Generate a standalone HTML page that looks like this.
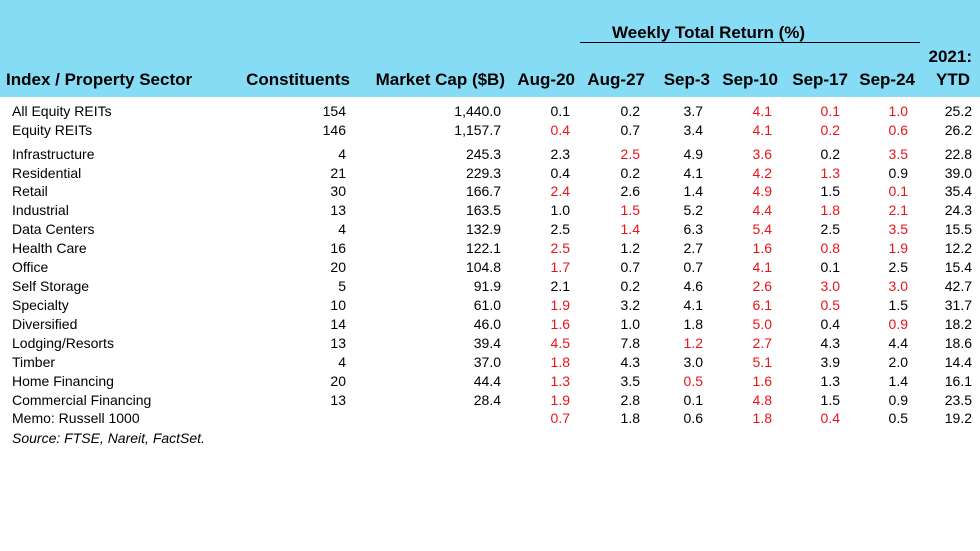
<!DOCTYPE html>
<html><head><meta charset="utf-8"><style>
body{margin:0;width:980px;height:551px;background:#fff;font-family:"Liberation Sans",Arial,sans-serif;position:relative;overflow:hidden}
.band{position:absolute;left:0;top:0;width:980px;height:97px;background:#87dcf5}
.h{position:absolute;font-weight:bold;font-size:17px;color:#000;white-space:nowrap}
.c{position:absolute;font-size:14px;color:#000;white-space:nowrap;transform:translateY(-50%)}
.r{text-align:right}
.red{color:#e8141a}
</style></head><body>
<div class="band"></div>
<div class="h" style="left:612px;top:23px">Weekly Total Return (%)</div>
<div style="position:absolute;left:580px;top:42px;width:340px;height:1px;background:#000"></div>
<div class="h" style="right:8px;top:47px">2021:</div>
<div id="hdr"></div>
<div id="tbl"></div>
<div class="c" style="left:12px;top:438px;font-style:italic">Source: FTSE, Nareit, FactSet.</div>
<script>
const headers=["Index / Property Sector","Constituents","Market Cap ($B)","Aug-20","Aug-27","Sep-3","Sep-10","Sep-17","Sep-24","YTD"];
const sectors=["All Equity REITs","Equity REITs","Infrastructure","Residential","Retail","Industrial","Data Centers","Health Care","Office","Self Storage","Specialty","Diversified","Lodging/Resorts","Timber","Home Financing","Commercial Financing","Memo: Russell 1000"];
const constituents=["154","146","4","21","30","13","4","16","20","5","10","14","13","4","20","13",""];
const marketCap=["1,440.0","1,157.7","245.3","229.3","166.7","163.5","132.9","122.1","104.8","91.9","61.0","46.0","39.4","37.0","44.4","28.4",""];
const aug20=["0.1","-0.4","2.3","0.4","-2.4","1.0","2.5","-2.5","-1.7","2.1","-1.9","-1.6","-4.5","-1.8","-1.3","-1.9","-0.7"];
const aug27=["0.2","0.7","-2.5","0.2","2.6","-1.5","-1.4","1.2","0.7","0.2","3.2","1.0","7.8","4.3","3.5","2.8","1.8"];
const sep3=["3.7","3.4","4.9","4.1","1.4","5.2","6.3","2.7","0.7","4.6","4.1","1.8","-1.2","3.0","-0.5","0.1","0.6"];
const sep10=["-4.1","-4.1","-3.6","-4.2","-4.9","-4.4","-5.4","-1.6","-4.1","-2.6","-6.1","-5.0","-2.7","-5.1","-1.6","-4.8","-1.8"];
const sep17=["-0.1","-0.2","0.2","-1.3","1.5","-1.8","2.5","-0.8","0.1","-3.0","-0.5","0.4","4.3","3.9","1.3","1.5","-0.4"];
const sep24=["-1.0","-0.6","-3.5","0.9","-0.1","-2.1","-3.5","-1.9","2.5","-3.0","1.5","-0.9","4.4","2.0","1.4","0.9","0.5"];
const ytd=["25.2","26.2","22.8","39.0","35.4","24.3","15.5","12.2","15.4","42.7","31.7","18.2","18.6","14.4","16.1","23.5","19.2"];
const rowY=[111,130,154,173,191,210,229,248,267,286,305,324,343,362,381,400,418];
const colRight=[null,346,501,570,640,703,772,840,908,972];
const hdrRight=[null,350,505,575,645,710,778,848,915,970];
const hdr=document.getElementById('hdr');
headers.forEach((t,i)=>{
 const d=document.createElement('div');
 d.className='h';
 
 
 d.textContent=t;d.style.top='70px';
 if(i==0)d.style.left='6px';else{d.style.right=(980-hdrRight[i])+'px';}
 if(i==9)d.style.right='10px';
 hdr.appendChild(d);
});
const cols=[constituents,marketCap,aug20,aug27,sep3,sep10,sep17,sep24,ytd];
const tbl=document.getElementById('tbl');
sectors.forEach((s,r)=>{
 const d=document.createElement('div');d.className='c';
 
 
 d.style.left='12px';d.style.top=rowY[r]+'px';d.textContent=s;tbl.appendChild(d);
 cols.forEach((arr,ci)=>{
  let v=arr[r];if(!v)return;
  const e=document.createElement('div');e.className='c';
  
  
  if(v[0]=='-'){v=v.slice(1);e.classList.add('red');}
  e.textContent=v;e.style.right=(980-colRight[ci+1])+'px';e.style.top=rowY[r]+'px';
  tbl.appendChild(e);
 });
});
</script>
</body></html>
